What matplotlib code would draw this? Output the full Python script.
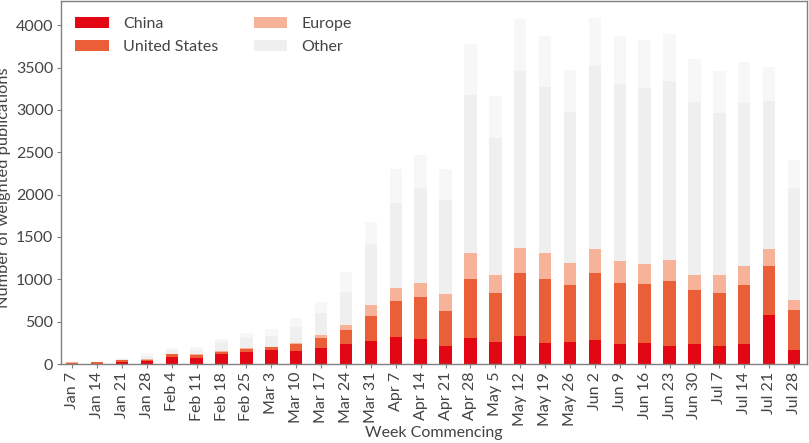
import numpy as np
import matplotlib
matplotlib.use("Agg")
import matplotlib.pyplot as plt

plt.rcParams['font.family'] = ['Lato', 'DejaVu Sans']

weeks = ['Jan 7', 'Jan 14', 'Jan 21', 'Jan 28', 'Feb 4', 'Feb 11', 'Feb 18', 'Feb 25',
         'Mar 3', 'Mar 10', 'Mar 17', 'Mar 24', 'Mar 31', 'Apr 7', 'Apr 14', 'Apr 21',
         'Apr 28', 'May 5', 'May 12', 'May 19', 'May 26', 'Jun 2', 'Jun 9', 'Jun 16',
         'Jun 23', 'Jun 30', 'Jul 7', 'Jul 14', 'Jul 21', 'Jul 28']

china = [4, 5, 25, 30, 86, 67, 118, 138, 161, 153, 189, 236, 275, 322, 295,
         216, 303, 264, 326, 252, 264, 283, 240, 248, 216, 240, 216, 240, 582, 161]
united_states = [12, 13, 18, 21, 32, 39, 27, 39, 36, 83, 114, 161, 287, 421, 496,
                 405, 704, 570, 744, 747, 664, 787, 716, 692, 767, 633, 625, 696, 578, 472]
europe = [2, 2, 4, 5, 6, 8, 7, 8, 7, 12, 39, 59, 130, 157, 171,
          201, 303, 220, 295, 311, 260, 283, 259, 244, 244, 181, 205, 224, 197, 126]
other = [7, 4, 13, 34, 36, 51, 111, 118, 126, 192, 264, 394, 724, 1000, 1111,
         1118, 1868, 1613, 2096, 1955, 1789, 2163, 2085, 2073, 2109, 2041, 1912, 1923, 1743, 1321]
# lighter band on top of the bars (not in the legend)
other_extra = [10, 2, 11, 36, 25, 32, 32, 59, 83, 99, 126, 236, 256, 400, 389,
               357, 602, 491, 610, 605, 496, 574, 570, 566, 554, 504, 503, 477, 412, 323]

series = [
    ('China', china, '#e30613'),
    ('United States', united_states, '#ea5f38'),
    ('Europe', europe, '#f7b399'),
    ('Other', other, '#efefef'),
    (None, other_extra, '#f7f7f7'),
]

text_col = '#444444'

fig = plt.figure(figsize=(8.09, 4.43), dpi=100)
ax = fig.add_axes([0.0754, 0.1783, 0.9221, 0.8194])

x = np.arange(len(weeks))
bottom = np.zeros(len(weeks))
for name, vals, col in series:
    ax.bar(x, vals, width=0.5, bottom=bottom, color=col, label=name if name else '_nolegend_')
    bottom += np.array(vals)

ax.set_xlim(-0.45, len(weeks) - 0.48)
ax.set_ylim(0, 4285)
ax.set_xticks(x)
ax.set_xticklabels(weeks, rotation=90)
ax.set_yticks([0, 500, 1000, 1500, 2000, 2500, 3000, 3500, 4000])

for s in ax.spines.values():
    s.set_color('#808080')
    s.set_linewidth(1.0)
ax.tick_params(axis='both', color='#808080', length=3, pad=2.5)
ax.tick_params(axis='both', labelcolor=text_col, labelsize=11.5)

ax.set_xlabel('Week Commencing', fontsize=11.5, color=text_col)
ax.set_ylabel('Number of weighted publications', fontsize=11.8, color=text_col)
ax.yaxis.set_label_coords(-0.0665, 0.485)
ax.xaxis.set_label_coords(0.5, -0.171)

ax.legend(loc='upper left', ncol=2, frameon=False, fontsize=11.5,
          handlelength=2.1, handleheight=0.7, handletextpad=0.9,
          columnspacing=2.2, labelspacing=0.55, labelcolor=text_col,
          bbox_to_anchor=(0.0, 0.995))

fig.savefig('out.png', dpi=100)
